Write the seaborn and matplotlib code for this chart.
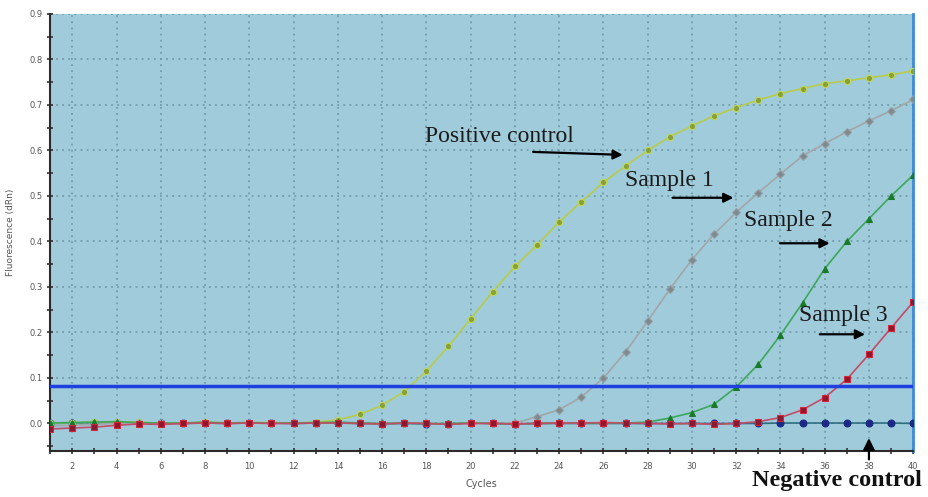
import numpy as np
import pandas as pd
import matplotlib
matplotlib.use("Agg")
import matplotlib.pyplot as plt
import seaborn as sns

cycles = list(range(1, 41))

positive_control = [0.000, 0.002, 0.003, 0.004, 0.003, 0.000, 0.001, 0.003, 0.001, 0.002,
                    0.002, 0.001, 0.003, 0.008, 0.020, 0.040, 0.070, 0.115, 0.170, 0.230,
                    0.290, 0.345, 0.392, 0.443, 0.487, 0.530, 0.566, 0.600, 0.630, 0.654,
                    0.676, 0.694, 0.711, 0.725, 0.736, 0.747, 0.753, 0.760, 0.766, 0.775]
sample_1 = [-0.005, -0.004, -0.002, 0.000, 0.001, 0.000, 0.000, 0.002, 0.000, 0.001,
            0.001, 0.000, 0.001, 0.002, 0.001, -0.001, 0.002, 0.000, -0.002, 0.002,
            0.000, 0.001, 0.015, 0.030, 0.058, 0.100, 0.157, 0.225, 0.295, 0.360,
            0.416, 0.464, 0.507, 0.548, 0.588, 0.615, 0.641, 0.665, 0.687, 0.712]
sample_2 = [0.001, 0.002, 0.003, 0.004, 0.002, 0.001, 0.001, 0.003, 0.001, 0.002,
            0.001, 0.001, 0.002, 0.003, 0.001, 0.000, 0.001, 0.000, 0.000, 0.001,
            0.000, -0.001, 0.000, 0.001, 0.001, 0.001, 0.001, 0.003, 0.012, 0.024,
            0.042, 0.080, 0.130, 0.194, 0.265, 0.340, 0.400, 0.450, 0.500, 0.546]
sample_3 = [-0.012, -0.010, -0.008, -0.004, -0.001, -0.002, 0.000, 0.001, 0.000, 0.001,
            0.000, 0.000, 0.001, 0.001, 0.000, -0.001, 0.001, 0.000, -0.002, 0.000,
            0.000, -0.001, 0.000, 0.001, 0.001, 0.002, 0.001, 0.000, -0.001, 0.000,
            -0.002, 0.000, 0.004, 0.013, 0.030, 0.057, 0.097, 0.152, 0.210, 0.267]
negative_control = [0.000, 0.001, 0.002, 0.002, 0.001, 0.000, 0.000, 0.001, 0.000, 0.001,
                    0.001, 0.000, 0.001, 0.001, 0.000, -0.001, 0.000, -0.001, -0.001, 0.001,
                    0.000, -0.001, 0.000, 0.000, 0.000, 0.000, 0.000, 0.000, 0.000, 0.000,
                    0.000, 0.000, 0.000, 0.001, 0.001, 0.001, 0.001, 0.001, 0.001, 0.000]
threshold = 0.083

df = pd.DataFrame({
    "Cycles": cycles,
    "Positive control": positive_control,
    "Sample 1": sample_1,
    "Sample 2": sample_2,
    "Sample 3": sample_3,
    "Negative control": negative_control,
})

fig = plt.figure(figsize=(9.29, 4.97), dpi=100)
ax = fig.add_axes([0.054, 0.093, 0.929, 0.879])
ax.set_facecolor("#9fcbda")

styles = {
    "Negative control": dict(color="#2f6f7f", marker="o", markerfacecolor="#1c2a86",
                             markeredgecolor="#1c2a86", markersize=5),
    "Positive control": dict(color="#b8cc4c", marker="o", markerfacecolor="#86a03a",
                             markeredgecolor="#c4d850", markersize=4.5),
    "Sample 1": dict(color="#a2a6a8", marker="D", markerfacecolor="#7d8a90",
                     markeredgecolor="#9aa0a4", markersize=4.5),
    "Sample 2": dict(color="#3ca85c", marker="^", markerfacecolor="#1b7a2a",
                     markeredgecolor="#1b7a2a", markersize=5),
    "Sample 3": dict(color="#c44c68", marker="s", markerfacecolor="#8a1a30",
                     markeredgecolor="#d8243a", markersize=5),
}
for name in ["Negative control", "Positive control", "Sample 1", "Sample 2", "Sample 3"]:
    sns.lineplot(data=df, x="Cycles", y=name, ax=ax, linewidth=1.2, zorder=3, **styles[name])

ax.axhline(threshold, color="#1f3fe0", linewidth=2.5, zorder=4)

ax.set_xlim(1, 40)
ax.set_ylim(-0.06, 0.9)
ax.set_xticks(range(2, 41, 2))
ax.set_xticks(range(1, 41), minor=True)
ax.set_yticks(np.arange(0, 0.91, 0.1))
ax.set_yticks(np.arange(-0.05, 0.9, 0.05), minor=True)
ax.set_yticklabels([f"{v:.1f}" for v in np.arange(0, 0.91, 0.1)])
ax.tick_params(which="both", direction="inout", length=4, width=1.2, color="#333333",
               labelsize=6, labelcolor="#555555")
ax.tick_params(axis="x", pad=6)

ax.grid(True, which="major", linestyle=(0, (1.2, 2.8)), color="#6d95a3", linewidth=1.1)
ax.set_axisbelow(True)

ax.spines["top"].set_visible(False)
ax.spines["left"].set_color("#2a2a2a")
ax.spines["left"].set_linewidth(1.5)
ax.spines["bottom"].set_color("#2a2a2a")
ax.spines["bottom"].set_linewidth(1.5)
ax.spines["right"].set_color("#3f8ad8")
ax.spines["right"].set_linewidth(2)

ax.set_xlabel("Cycles", fontsize=7, color="#555555", labelpad=6)
ax.set_ylabel("Fluorescence (dRn)", fontsize=6.5, color="#555555", labelpad=10)

serif = "Liberation Serif"
arrow = dict(arrowstyle="-|>", color="black", lw=1.6, mutation_scale=14)

labels = [
    ("Positive control", 21.3, 0.63, (22.7, 0.597), (27.0, 0.590)),
    ("Sample 1", 29.0, 0.535, (29.0, 0.496), (32.0, 0.496)),
    ("Sample 2", 34.35, 0.447, (33.85, 0.396), (36.35, 0.396)),
    ("Sample 3", 36.85, 0.238, (35.65, 0.196), (37.95, 0.196)),
]
for text, tx, ty, start, end in labels:
    ax.text(tx, ty, text, family=serif, fontsize=17, ha="center", va="center",
            color="#1a1a1a", zorder=6)
    ax.annotate("", xy=end, xytext=start, arrowprops=arrow, zorder=6)

ax.text(36.55, -0.126, "Negative control", family=serif, fontsize=17.5, fontweight="bold",
        ha="center", va="center", color="#111111", clip_on=False)
ax.annotate("", xy=(38.0, -0.026), xytext=(38.0, -0.085),
            arrowprops=dict(arrowstyle="-|>", color="black", lw=1.6, mutation_scale=17),
            annotation_clip=False)

fig.savefig("out.png", dpi=100)
